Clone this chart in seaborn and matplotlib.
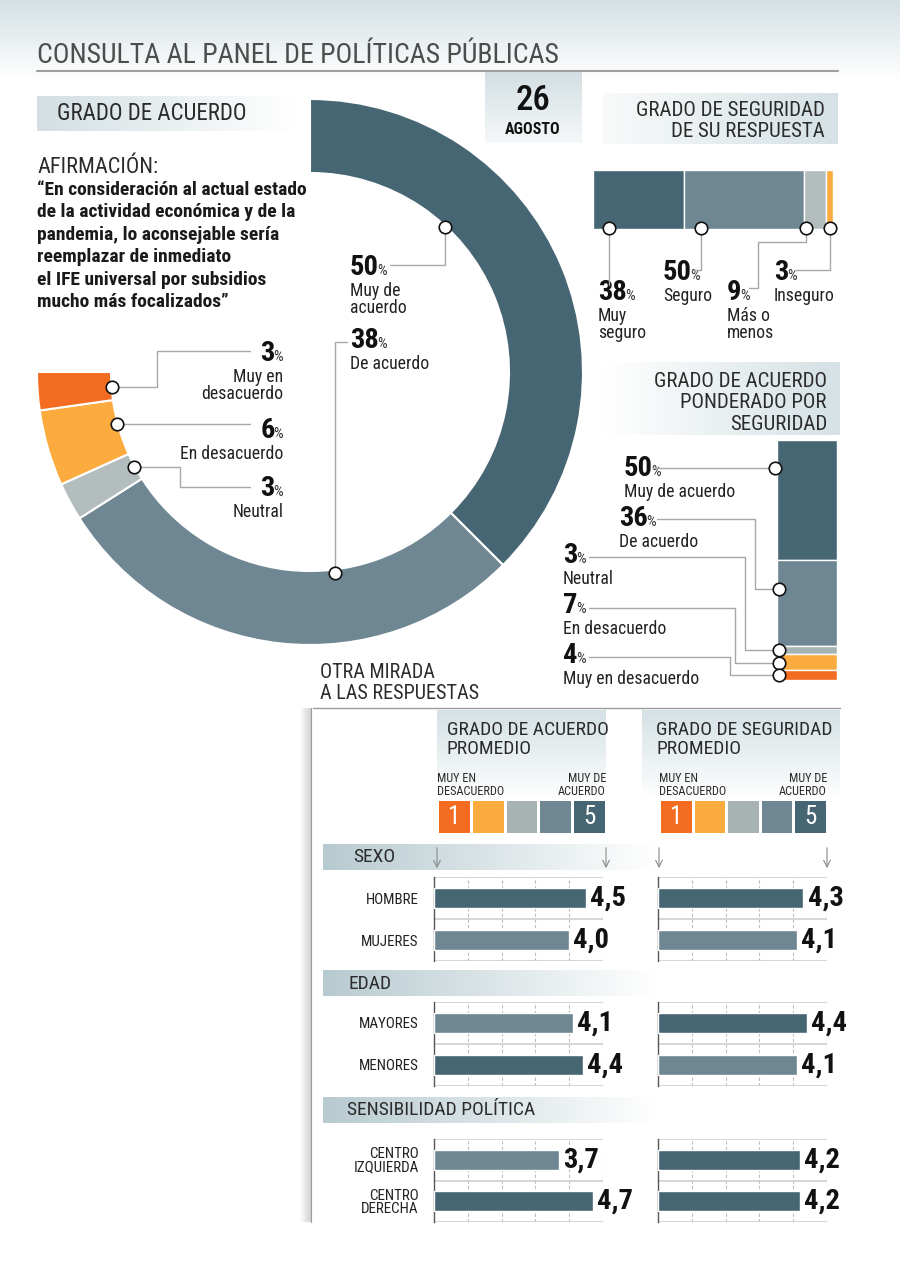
import numpy as np
import pandas as pd
import matplotlib
matplotlib.use('Agg')
import matplotlib.pyplot as plt
from matplotlib import font_manager
from matplotlib.colors import ListedColormap, to_rgb
import seaborn as sns

# ---- datos ----
acuerdo_labels = ['Muy de\nacuerdo', 'De acuerdo', 'Neutral', 'En desacuerdo', 'Muy en\ndesacuerdo']
acuerdo_pct = [50, 38, 3, 6, 3]

seguridad_labels = ['Muy\nseguro', 'Seguro', 'Más o\nmenos', 'Inseguro']
seguridad_pct = [38, 50, 9, 3]

ponderado_labels = ['Muy de acuerdo', 'De acuerdo', 'Neutral', 'En desacuerdo', 'Muy en desacuerdo']
ponderado_pct = [50, 36, 3, 7, 4]

grupos = ['SEXO', 'EDAD', 'SENSIBILIDAD POLÍTICA']
categorias = [['HOMBRE', 'MUJERES'], ['MAYORES', 'MENORES'], ['CENTRO\nIZQUIERDA', 'CENTRO\nDERECHA']]
acuerdo_prom = [[4.5, 4.0], [4.1, 4.4], [3.7, 4.7]]
seguridad_prom = [[4.3, 4.1], [4.4, 4.1], [4.2, 4.2]]
escala = [1, 2, 3, 4, 5]

DARK = '#476674'
MED = '#6f8793'
GREY = '#b3bdbe'
GREY2 = '#a7b2b3'
LORANGE = '#fcab3f'
ORANGE = '#f36c21'
LINE = '#a8a8a8'

names = {f.name for f in font_manager.fontManager.ttflist}
NARROW = 'DejaVu Sans'
for cand in ['Roboto Condensed', 'Liberation Sans Narrow', 'Open Sans Condensed']:
    if cand in names:
        NARROW = cand
        break

sns.set_theme(style='white')
plt.rcParams['font.family'] = [NARROW, 'DejaVu Sans']

W, H = 900, 1266
fig = plt.figure(figsize=(9, 12.66), dpi=100)


def px_axes(x0, y0, x1, y1, z=1):
    ax = fig.add_axes([x0 / W, 1 - y1 / H, (x1 - x0) / W, (y1 - y0) / H])
    ax.set_zorder(z)
    return ax


bg = px_axes(0, 0, W, H, z=0)
fg = px_axes(0, 0, W, H, z=10)
for a in (bg, fg):
    a.axis('off')


def grad(x0, y0, x1, y1, c0, c1, vertical=False):
    t = np.linspace(0, 1, 256)
    a, b = np.array(to_rgb(c0)), np.array(to_rgb(c1))
    cols = a[None, :] * (1 - t[:, None]) + b[None, :] * t[:, None]
    img = cols[:, None, :] if vertical else cols[None, :, :]
    bg.imshow(img, extent=(x0, x1, y1, y0), aspect='auto', interpolation='bilinear')


# fondos y cajas
grad(0, 0, W, 80, '#d4e0e4', '#ffffff', vertical=True)
grad(37, 96, 295, 131, '#d3dfe3', '#ffffff')
grad(485, 72, 582, 143, '#d3dfe3', '#f6f8f9', vertical=True)
grad(603, 93, 838, 144, '#f8fafa', '#d5e1e5')
grad(605, 362, 840, 435, '#ffffff', '#d5e1e5')
grad(437, 710, 606, 800, '#d5e1e5', '#ffffff', vertical=True)
grad(642, 710, 840, 800, '#d5e1e5', '#ffffff', vertical=True)
grad(323, 844, 655, 870, '#b7cad0', '#ffffff')
grad(323, 970, 655, 996, '#b7cad0', '#ffffff')
grad(323, 1097, 655, 1123, '#b7cad0', '#ffffff')
grad(300, 708, 311, 1222, '#ffffff', '#d0d0d0')
bg.set_xlim(0, W)
bg.set_ylim(H, 0)

fg.set_xlim(0, W)
fg.set_ylim(H, 0)
fg.plot([37, 838], [71, 71], color='#a0a0a0', lw=1.5)
fg.plot([313, 840], [708, 708], color='#9a9a9a', lw=1)
fg.plot([311, 311], [708, 1222], color='#9a9a9a', lw=0.8)

# textos de cabecera
TXT = '#2b2b2b'
fg.text(37, 63, 'CONSULTA AL PANEL DE POLÍTICAS PÚBLICAS', fontsize=20, color='#4d4d4d')
fg.text(57, 114, 'GRADO DE ACUERDO', fontsize=16.5, color=TXT, va='center')
fg.text(533, 101, '26', fontsize=25, fontweight='medium', color='#111111', ha='center', va='center')
fg.text(533, 129, 'AGOSTO', fontsize=11.5, fontweight='bold', color='#111111', ha='center', va='center')
fg.text(825, 121, 'GRADO DE SEGURIDAD\nDE SU RESPUESTA', fontsize=15, color=TXT,
        ha='right', va='center', linespacing=1.12)
fg.text(827, 403, 'GRADO DE ACUERDO\nPONDERADO POR\nSEGURIDAD', fontsize=15, color=TXT,
        ha='right', va='center', linespacing=1.14)
fg.text(37, 173, 'AFIRMACIÓN:', fontsize=16, color=TXT)
fg.text(37, 181, '“En consideración al actual estado\nde la actividad económica y de la\n'
        'pandemia, lo aconsejable sería\nreemplazar de inmediato\nel IFE universal por subsidios\n'
        'mucho más focalizados”', fontsize=14, fontweight='bold', color='#1a1a1a',
        va='top', linespacing=1.32)
fg.text(320, 683, 'OTRA MIRADA\nA LAS RESPUESTAS', fontsize=14.5, color=TXT, va='center', linespacing=1.08)

# ---- dona (3/4 de círculo) ----
ax = px_axes(37, 99, 583, 645)
donut_colors = [DARK, MED, GREY, LORANGE, ORANGE]
wedges, _ = ax.pie(acuerdo_pct + [sum(acuerdo_pct) / 3], colors=donut_colors + ['white'],
                   startangle=90, counterclock=False, radius=1,
                   wedgeprops=dict(width=74 / 273, edgecolor='white', linewidth=1.5))
wedges[-1].set_visible(False)
ax.set_xlim(-1, 1)
ax.set_ylim(-1, 1)

# ---- barra de seguridad ----
ax = px_axes(593, 170, 833, 229)
left = 0
for v, c in zip(seguridad_pct, [DARK, MED, GREY, LORANGE]):
    ax.barh(0, v, left=left, height=1, color=c, edgecolor='white', linewidth=1)
    left += v
ax.set_xlim(0, 100)
ax.set_ylim(-0.5, 0.5)
ax.axis('off')

# ---- barra ponderada ----
ax = px_axes(777, 440, 837, 680)
bottom = 0
for v, c in zip(ponderado_pct, [DARK, MED, GREY2, LORANGE, ORANGE]):
    ax.bar(0, v, bottom=bottom, width=1, color=c, edgecolor='white', linewidth=1)
    bottom += v
ax.set_xlim(-0.5, 0.5)
ax.set_ylim(100, 0)
ax.axis('off')


# ---- etiquetas de porcentaje ----
def pct(x, y, value, name, ha='left', big=20.5, small=11, name_size=12.7):
    if ha == 'left':
        t = fg.text(x, y, str(value), fontsize=big, fontweight='bold', color='#111111', ha='left', va='baseline')
        fg.annotate('%', xy=(1, 0), xycoords=t, xytext=(-1, 2.2), textcoords='offset points',
                    fontsize=small, ha='left', va='bottom', color='#333333')
    else:
        p = fg.text(x, y, '%', fontsize=small, ha='right', va='baseline', color='#333333')
        fg.annotate(str(value), xy=(0, 0), xycoords=p, xytext=(1, -2.2), textcoords='offset points',
                    fontsize=big, fontweight='bold', color='#111111', ha='right', va='bottom')
    fg.text(x, y + 7, name, fontsize=name_size, ha=ha, va='top', color='#222222',
            linespacing=0.92, multialignment=ha)


def leader(pts, circle_at=0):
    xs, ys = zip(*pts)
    fg.plot(xs, ys, color=LINE, lw=1, zorder=3)
    cx, cy = pts[circle_at]
    fg.plot(cx, cy, 'o', ms=9, mfc='white', mec='#111111', mew=1.2, zorder=4)


donut_pos = [(350, 275, 'left'), (350, 348, 'left'), (283, 496, 'right'), (283, 438, 'right'), (283, 361, 'right')]
for (x, y, ha), v, n in zip(donut_pos, acuerdo_pct, acuerdo_labels):
    pct(x, y, v, n, ha=ha)
leader([(445, 227), (445, 265), (390, 265)])
leader([(335, 573), (335, 342), (347, 342)])
leader([(134, 467), (180, 467), (180, 487), (250, 487)])
leader([(117, 424), (250, 424)])
leader([(112, 387), (157, 387), (157, 351), (250, 351)])

seg_pos = [(598, 300), (663, 280), (727, 300), (774, 280)]
for (x, y), v, n in zip(seg_pos, seguridad_pct, seguridad_labels):
    pct(x, y, v, n)
leader([(609, 228), (609, 285)])
leader([(701, 228), (701, 270), (693, 270)])
leader([(806, 228), (806, 242), (758, 242), (758, 288), (749, 288)])
leader([(830, 228), (830, 270), (795, 270)])

pond_pos = [(624, 476), (619, 526), (563, 563), (563, 613), (563, 663)]
for (x, y), v, n in zip(pond_pos, ponderado_pct, ponderado_labels):
    pct(x, y, v, n)
leader([(775, 468), (653, 468)])
leader([(779, 589), (755, 589), (755, 519), (657, 519)])
leader([(779, 650), (745, 650), (745, 557), (589, 557)])
leader([(779, 663), (735, 663), (735, 608), (589, 608)])
leader([(779, 675), (730, 675), (730, 657), (589, 657)])

# ---- otra mirada: escalas ----
scale_colors = [ORANGE, LORANGE, GREY2, MED, DARK]
for x0, x1, title in [(437, 606, 'GRADO DE ACUERDO\nPROMEDIO'), (659, 827, 'GRADO DE SEGURIDAD\nPROMEDIO')]:
    fg.text(x0 + 10 if x0 < 600 else x0 - 3, 721, title, fontsize=14, color=TXT, va='top', linespacing=1.1)
    fg.text(x0, 798, 'MUY EN\nDESACUERDO', fontsize=8.8, color=TXT, va='bottom', linespacing=0.95)
    fg.text(x1, 798, 'MUY DE\nACUERDO', fontsize=8.8, color=TXT, va='bottom', ha='right',
            multialignment='right', linespacing=0.95)
    ax = px_axes(x0, 799, x1, 834, z=2)
    annot = np.array([[str(escala[0]), '', '', '', str(escala[-1])]])
    sns.heatmap(np.array([escala]), cmap=ListedColormap(scale_colors), vmin=0.5, vmax=5.5, cbar=False,
                annot=annot, fmt='', linewidths=2, linecolor='white', xticklabels=False,
                yticklabels=False, ax=ax, annot_kws={'color': 'white', 'fontsize': 18})
    for xa in (x0, x1):
        fg.annotate('', xy=(xa, 871), xytext=(xa, 845),
                    arrowprops=dict(arrowstyle='->', color='#8a8a8a', lw=0.8))

# ---- otra mirada: barras ----
rows_y = [(877, 961), (1002, 1086), (1139, 1222)]
band_y = [857, 984, 1110]
band_x = [353, 348, 347]
for gi, (y0, y1) in enumerate(rows_y):
    fg.text(band_x[gi], band_y[gi], grupos[gi], fontsize=14, color=TXT, va='center')
    for x0, x1, vals in [(434, 603, acuerdo_prom[gi]), (658, 827, seguridad_prom[gi])]:
        ax = px_axes(x0, y0, x1, y1, z=2)
        df = pd.DataFrame({'cat': categorias[gi], 'val': vals})
        cols = [DARK if v == max(vals) else MED for v in vals]
        sns.barplot(data=df, x='val', y='cat', hue='cat', palette=cols, legend=False,
                    ax=ax, width=0.49, saturation=1, zorder=3)
        ax.set_xlim(0, 5)
        ax.set_ylim(1.5, -0.5)
        ax.set_xticks([])
        ax.set_xlabel('')
        ax.set_ylabel('')
        for s in ['top', 'right', 'bottom']:
            ax.spines[s].set_visible(False)
        ax.spines['left'].set_color('#555555')
        ax.spines['left'].set_linewidth(1)
        for xv in range(1, 6):
            ax.axvline(xv, color='#bdbdbd', lw=0.8, ls=(0, (3, 2)), zorder=1)
        for yv in (-0.5, 0.5, 1.5):
            ax.axhline(yv, color='#cfcfcf', lw=1.2, zorder=1)
        ax.patch.set_alpha(0)
        if x0 < 600:
            ax.tick_params(axis='y', length=0, pad=11, labelsize=10.8, labelcolor='#222222')
            for lab in ax.get_yticklabels():
                lab.set_multialignment('right')
                lab.set_linespacing(0.95)
        else:
            ax.set_yticks([])
        for i, v in enumerate(vals):
            ax.annotate(f'{v:.1f}'.replace('.', ','), xy=(v, i), xytext=(3, 0), textcoords='offset points',
                        fontsize=20.5, fontweight='bold', color='#111111', va='center', ha='left')

fig.savefig('out.png', dpi=100)
